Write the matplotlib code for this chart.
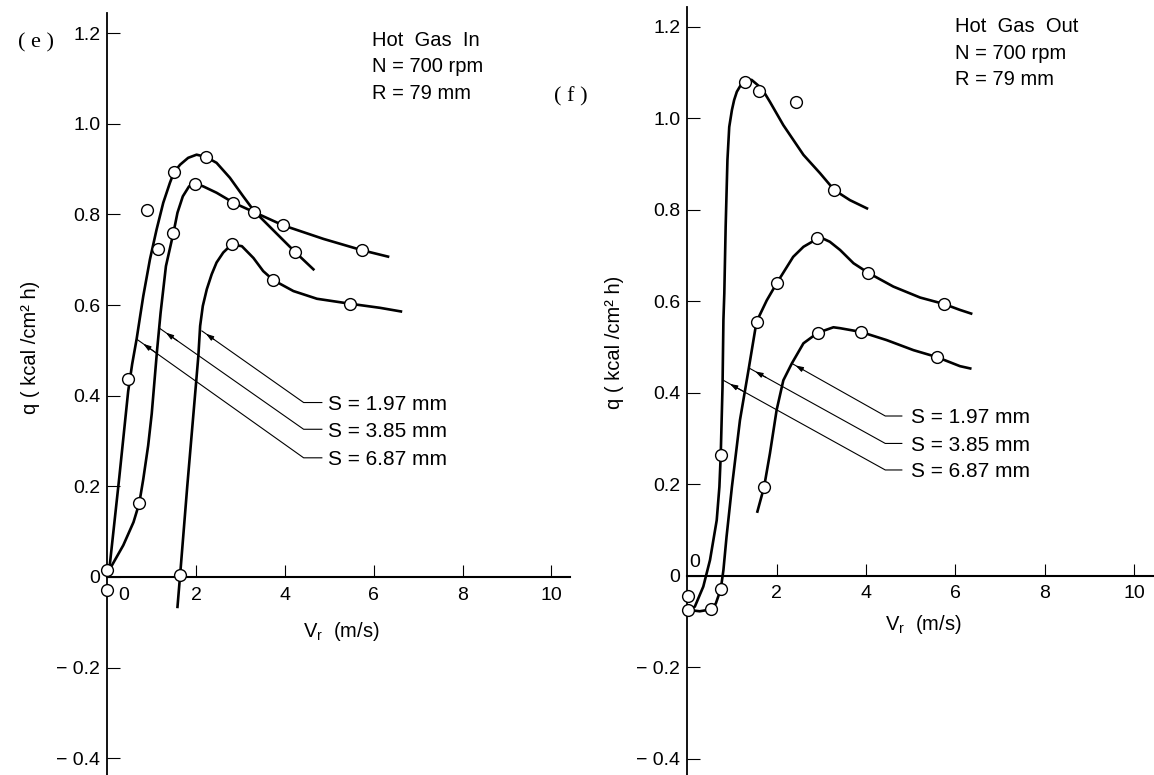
import matplotlib.pyplot as plt

plt.rcParams['font.family'] = ['Liberation Sans', 'DejaVu Sans']
plt.rcParams['mathtext.fontset'] = 'custom'
plt.rcParams['mathtext.rm'] = 'Liberation Sans'
plt.rcParams['mathtext.it'] = 'Liberation Sans:italic'

# ---- (e) Hot Gas In : faired curves and measured points ----
in_s687_x = [0.04, 0.27, 0.47, 0.56, 0.66, 0.74, 0.81, 0.96, 1.11, 1.26, 1.41, 1.50, 1.64,
             1.82, 2.01, 2.22, 2.46, 2.76, 3.06, 3.31, 3.77, 4.23, 4.64]
in_s687_y = [0.012, 0.22, 0.41, 0.47, 0.525, 0.576, 0.62, 0.701, 0.767, 0.826, 0.870, 0.893,
             0.910, 0.925, 0.932, 0.927, 0.914, 0.881, 0.840, 0.807, 0.762, 0.717, 0.679]
in_s385_x = [0.06, 0.36, 0.59, 0.72, 0.81, 0.92, 1.00, 1.06, 1.12, 1.20, 1.32, 1.49, 1.58,
             1.70, 1.84, 1.98, 2.16, 2.46, 2.84, 3.31, 3.96, 4.87, 5.74, 6.32]
in_s385_y = [0.018, 0.07, 0.121, 0.163, 0.216, 0.29, 0.36, 0.43, 0.50, 0.583, 0.686, 0.760,
             0.804, 0.840, 0.862, 0.868, 0.862, 0.848, 0.826, 0.805, 0.776, 0.746, 0.721, 0.707]
in_s197_x = [1.58, 1.64, 1.80, 2.00, 2.05, 2.09, 2.15, 2.24, 2.35, 2.46, 2.61, 2.80, 3.03,
             3.29, 3.51, 3.74, 4.19, 4.72, 5.47, 6.14, 6.61]
in_s197_y = [-0.066, 0.005, 0.20, 0.430, 0.488, 0.554, 0.598, 0.635, 0.668, 0.694, 0.716,
             0.734, 0.730, 0.704, 0.675, 0.655, 0.631, 0.614, 0.603, 0.594, 0.586]
in_pts_x = [0.90, 1.50, 2.22, 1.15, 1.49, 1.98, 2.84, 3.31, 3.96, 5.74, 4.23, 2.80, 3.74,
            5.47, 0.47, 0.72, 0.0, 0.0, 1.64]
in_pts_y = [0.811, 0.893, 0.927, 0.723, 0.760, 0.868, 0.826, 0.805, 0.776, 0.721, 0.717,
            0.734, 0.655, 0.603, 0.438, 0.163, 0.016, -0.028, 0.005]

# ---- (f) Hot Gas Out ----
out_s687_x = [0.02, 0.17, 0.36, 0.51, 0.66, 0.72, 0.75, 0.79, 0.81, 0.83, 0.86, 0.90, 0.94,
              1.00, 1.05, 1.11, 1.20, 1.29, 1.44, 1.67, 1.85, 2.15, 2.60, 2.97, 3.29, 3.64,
              4.02]
out_s687_y = [-0.075, -0.068, -0.024, 0.034, 0.121, 0.194, 0.264, 0.413, 0.559, 0.617, 0.763,
              0.909, 0.981, 1.018, 1.040, 1.058, 1.073, 1.081, 1.084, 1.065, 1.036, 0.985,
              0.920, 0.880, 0.843, 0.821, 0.803]
out_s385_x = [0.02, 0.28, 0.53, 0.64, 0.75, 0.81, 0.88, 1.00, 1.18, 1.37, 1.55, 1.78, 2.00,
              2.37, 2.60, 2.97, 3.19, 3.42, 3.72, 4.05, 4.61, 5.21, 5.74, 6.10, 6.35]
out_s385_y = [-0.075, -0.078, -0.074, -0.061, -0.030, 0.012, 0.085, 0.194, 0.340, 0.449, 0.555,
              0.602, 0.639, 0.697, 0.719, 0.740, 0.730, 0.712, 0.683, 0.662, 0.632, 0.608,
              0.594, 0.581, 0.573]
out_s197_x = [1.57, 1.72, 1.85, 2.00, 2.15, 2.34, 2.60, 2.92, 3.27, 3.42, 3.88, 4.46, 5.06,
              5.58, 6.10, 6.33]
out_s197_y = [0.140, 0.194, 0.267, 0.362, 0.427, 0.464, 0.508, 0.531, 0.543, 0.541, 0.533,
              0.515, 0.493, 0.478, 0.458, 0.453]
out_pts_x = [1.29, 1.61, 2.43, 3.29, 2.91, 2.00, 1.55, 4.05, 5.74, 2.92, 3.88, 5.58, 0.75,
             1.72, 0.02, 0.02, 0.53, 0.75]
out_pts_y = [1.080, 1.059, 1.036, 0.843, 0.739, 0.639, 0.555, 0.662, 0.594, 0.531, 0.533,
             0.478, 0.264, 0.194, -0.045, -0.075, -0.074, -0.030]

gap_labels = ['S = 1.97 mm', 'S = 3.85 mm', 'S = 6.87 mm']
y_ticks = [-0.4, -0.2, 0, 0.2, 0.4, 0.6, 0.8, 1.0, 1.2]
y_tick_labels = ['− 0.4', '− 0.2', '0', '0.2', '0.4', '0.6', '0.8', '1.0', '1.2']
x_ticks = [2, 4, 6, 8, 10]
x_tick_labels = ['2', '4', '6', '8', '10']


def setup_axes(ax, xmax, ymin, ymax):
    ax.set_xlim(0, xmax)
    ax.set_ylim(ymin, ymax)
    ax.patch.set_visible(False)
    for side in ['top', 'right']:
        ax.spines[side].set_visible(False)
    ax.spines['bottom'].set_position(('data', 0))
    ax.spines['left'].set_linewidth(1.3)
    ax.spines['bottom'].set_linewidth(1.5)
    ax.set_xticks(x_ticks)
    ax.set_xticklabels(x_tick_labels)
    ax.set_yticks(y_ticks)
    ax.set_yticklabels(y_tick_labels)
    ax.tick_params(axis='both', direction='in', length=9, width=0.8, labelsize=14)
    ax.tick_params(axis='x', pad=7)
    ax.tick_params(axis='y', pad=5)


def draw_curves(ax, curves, px, py):
    for cx, cy in curves:
        ax.plot(cx, cy, color='black', lw=1.9, solid_joinstyle='round', clip_on=False, zorder=3)
    ax.plot(px, py, 'o', ms=8.5, mfc='white', mec='black', mew=1.0, clip_on=False, zorder=4)


def draw_leaders(ax, tips, corner_x, end_x, corner_ys, text_x):
    # leader from the curve down to a short horizontal stub, small arrowhead near the curve
    for (tx, ty), cy, lab in zip(tips, corner_ys, gap_labels):
        ax.plot([tx, corner_x, end_x], [ty, cy, cy], color='black', lw=0.8)
        dx, dy = corner_x - tx, cy - ty
        ax.annotate('', xy=(tx + 0.04 * dx, ty + 0.04 * dy),
                    xytext=(tx + 0.12 * dx, ty + 0.12 * dy),
                    arrowprops=dict(arrowstyle='-|>,head_length=0.45,head_width=0.15',
                                    color='black', lw=0.8, shrinkA=0, shrinkB=0))
        ax.text(text_x, cy - 0.004, lab, fontsize=15, ha='left', va='center')


fig = plt.figure(figsize=(11.54, 7.75), dpi=100)

# (e) panel
ax1 = fig.add_axes([107.3 / 1154, 0, 462.4 / 1154, 761.7 / 775])
setup_axes(ax1, 10.41, -0.437, 1.244)
draw_curves(ax1, [(in_s687_x, in_s687_y), (in_s385_x, in_s385_y), (in_s197_x, in_s197_y)],
            in_pts_x, in_pts_y)
draw_leaders(ax1, [(2.13, 0.543), (1.19, 0.548), (0.66, 0.525)],
             4.42, 4.83, [0.385, 0.326, 0.263], 4.96)
ax1.text(0.36, -0.041, '0', fontsize=14, ha='center', va='center')
ax1.text(-1.61, 1.179, '( e )', fontsize=16, family='Liberation Serif', ha='center', va='center')
ax1.text(5.96, 1.185, 'Hot  Gas  In', fontsize=14.5, ha='left', va='center')
ax1.text(5.96, 1.126, 'N = 700 rpm', fontsize=14.5, ha='left', va='center')
ax1.text(5.96, 1.068, 'R = 79 mm', fontsize=14.5, ha='left', va='center')
ax1.text(-1.73, 0.507, 'q ( kcal /cm² h)', fontsize=14.5, rotation=90, ha='center', va='center')
ax1.text(5.26, -0.120, r'V$_\mathrm{r}$  (m/s)', fontsize=14.5, ha='center', va='center')

# (f) panel
ax2 = fig.add_axes([687.2 / 1154, 0, 466.8 / 1154, 768.3 / 775])
setup_axes(ax2, 10.44, -0.436, 1.244)
draw_curves(ax2, [(out_s687_x, out_s687_y), (out_s385_x, out_s385_y), (out_s197_x, out_s197_y)],
            out_pts_x, out_pts_y)
draw_leaders(ax2, [(2.34, 0.464), (1.40, 0.453), (0.81, 0.427)],
             4.43, 4.80, [0.349, 0.289, 0.231], 5.01)
ax2.text(0.17, 0.028, '0', fontsize=14, ha='center', va='center')
ax2.text(-2.61, 1.046, '( f )', fontsize=16, family='Liberation Serif', ha='center', va='center')
ax2.text(5.99, 1.200, 'Hot  Gas  Out', fontsize=14.5, ha='left', va='center')
ax2.text(5.99, 1.142, 'N = 700 rpm', fontsize=14.5, ha='left', va='center')
ax2.text(5.99, 1.084, 'R = 79 mm', fontsize=14.5, ha='left', va='center')
ax2.text(-1.62, 0.511, 'q ( kcal /cm² h)', fontsize=14.5, rotation=90, ha='center', va='center')
ax2.text(5.29, -0.108, r'V$_\mathrm{r}$  (m/s)', fontsize=14.5, ha='center', va='center')

fig.savefig('out.png', dpi=100)
